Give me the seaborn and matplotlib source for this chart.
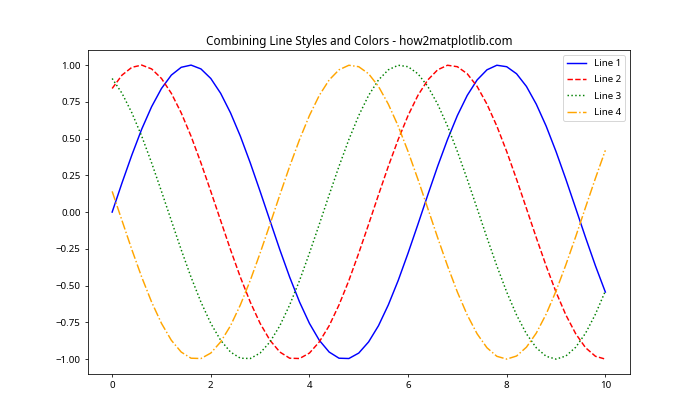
import matplotlib
matplotlib.use("Agg")
import matplotlib.pyplot as plt
import seaborn as sns
import pandas as pd

x = [i * 0.2 for i in range(51)]

line1 = [0.000, 0.199, 0.389, 0.565, 0.717, 0.841, 0.932, 0.985, 1.000, 0.974, 0.909, 0.808, 0.675,
         0.516, 0.335, 0.141, -0.058, -0.256, -0.443, -0.612, -0.757, -0.872, -0.952, -0.994, -0.996,
         -0.959, -0.883, -0.773, -0.631, -0.465, -0.279, -0.083, 0.117, 0.312, 0.494, 0.657, 0.794,
         0.899, 0.968, 0.999, 0.989, 0.941, 0.855, 0.734, 0.585, 0.412, 0.223, 0.025, -0.174, -0.366,
         -0.544]
line2 = [0.841, 0.932, 0.985, 1.000, 0.974, 0.909, 0.808, 0.675, 0.516, 0.335, 0.141, -0.058, -0.256,
         -0.443, -0.612, -0.757, -0.872, -0.952, -0.994, -0.996, -0.959, -0.883, -0.773, -0.631, -0.465,
         -0.279, -0.083, 0.117, 0.312, 0.494, 0.657, 0.794, 0.899, 0.968, 0.999, 0.989, 0.941, 0.855,
         0.734, 0.585, 0.412, 0.223, 0.025, -0.174, -0.366, -0.544, -0.700, -0.828, -0.923, -0.981,
         -1.000]
line3 = [0.909, 0.808, 0.675, 0.516, 0.335, 0.141, -0.058, -0.256, -0.443, -0.612, -0.757, -0.872,
         -0.952, -0.994, -0.996, -0.959, -0.883, -0.773, -0.631, -0.465, -0.279, -0.083, 0.117, 0.312,
         0.494, 0.657, 0.794, 0.899, 0.968, 0.999, 0.989, 0.941, 0.855, 0.734, 0.585, 0.412, 0.223,
         0.025, -0.174, -0.366, -0.544, -0.700, -0.828, -0.923, -0.981, -1.000, -0.979, -0.919, -0.823,
         -0.694, -0.537]
line4 = [0.141, -0.058, -0.256, -0.443, -0.612, -0.757, -0.872, -0.952, -0.994, -0.996, -0.959, -0.883,
         -0.773, -0.631, -0.465, -0.279, -0.083, 0.117, 0.312, 0.494, 0.657, 0.794, 0.899, 0.968, 0.999,
         0.989, 0.941, 0.855, 0.734, 0.585, 0.412, 0.223, 0.025, -0.174, -0.366, -0.544, -0.700, -0.828,
         -0.923, -0.981, -1.000, -0.979, -0.919, -0.823, -0.694, -0.537, -0.358, -0.166, 0.034, 0.231,
         0.420]

labels = ["Line 1", "Line 2", "Line 3", "Line 4"]
colors = ["blue", "red", "green", "orange"]
styles = ["-", "--", ":", "-."]
series = [line1, line2, line3, line4]

plt.rcParams["font.family"] = ["Noto Sans", "DejaVu Sans"]

fig, ax = plt.subplots(figsize=(10, 6), dpi=70)
for lab, col, ls, ys in zip(labels, colors, styles, series):
    df = pd.DataFrame({"x": x, "y": ys})
    sns.lineplot(data=df, x="x", y="y", ax=ax, color=col, linestyle=ls, label=lab)

ax.set_title("Combining Line Styles and Colors - how2matplotlib.com")
ax.set_xlabel("")
ax.set_ylabel("")
ax.legend(loc="upper right", labelspacing=0.75)
fig.subplots_adjust(left=0.125, right=0.9, top=0.88, bottom=0.11)
fig.savefig("out.png")
